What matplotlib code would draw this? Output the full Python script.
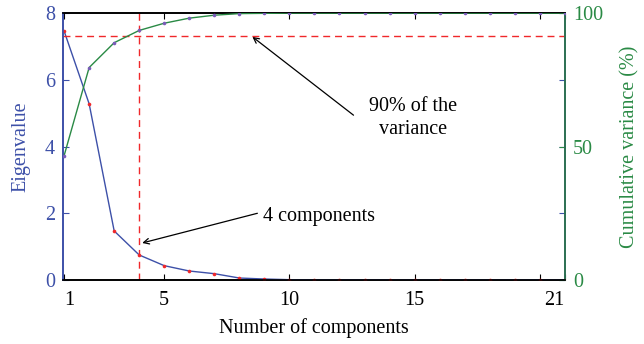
import numpy as np
import matplotlib
matplotlib.use("Agg")
import matplotlib.pyplot as plt

plt.rcParams["font.family"] = ["Liberation Serif", "DejaVu Serif"]

# eigenvalues of the 21 principal components and their cumulative share
components = np.arange(1, 22)
eigenvalues = [7.46, 5.28, 1.47, 0.75, 0.43, 0.27, 0.19, 0.06, 0.03, 0.01,
               0.005, 0.003, 0.002, 0.001, 0.001, 0.0, 0.0, 0.0, 0.0, 0.0, 0.0]
cumulative = [46.6, 79.6, 88.9, 93.5, 96.2, 98.1, 99.2, 99.8, 99.9, 100.0,
              100.0, 100.0, 100.0, 100.0, 100.0, 100.0, 100.0, 100.0, 100.0, 100.0, 100.0]
threshold = 91.5      # dashed level marking 90% of the variance
n_keep = 4
xticks = [1, 5, 10, 15, 20, 21]
xticklabels = ["1", "5", "10", "15", "", "21"]

BLUE = "#3d50a8"
GREEN = "#2a8a45"
GREEN_DARK = "#2b6e52"
RED = "#f0282a"
PURPLE = "#7a5cb8"
FS = 14.5

fig = plt.figure(figsize=(6.44, 3.44), dpi=100)
ax = fig.add_axes([0.098, 0.186, 0.779, 0.776])
ax2 = ax.twinx()

ax.plot(components, eigenvalues, "-", color=BLUE, lw=1.0, zorder=3)
ax.plot(components, eigenvalues, "o", color=RED, ms=2.6, mec="none", zorder=4)
ax2.plot(components, cumulative, "-", color=GREEN, lw=1.0, zorder=3)
ax2.plot(components, cumulative, "o", color=PURPLE, ms=2.6, mec="none", zorder=4)

ax2.axhline(threshold, color=RED, ls=(0, (5, 3.5)), lw=1.0)
ax.axvline(n_keep, color=RED, ls=(0, (5, 3.5)), lw=1.0)

ax.set_xlim(0.96, 21)
ax.set_ylim(0, 8)
ax2.set_ylim(0, 100)

ax.set_xticks(xticks)
ax.set_xticklabels(xticklabels)
lbls = ax.get_xticklabels()
lbls[0].set_ha("left")
lbls[-1].set_ha("right")
ax.set_yticks([0, 2, 4, 6, 8])
ax2.set_yticks([0, 50, 100])

ax.tick_params(axis="x", direction="in", top=True, length=4, width=0.8,
               colors="black", labelsize=FS, pad=8)
ax.tick_params(axis="y", direction="in", right=True, length=4, width=0.8,
               colors=BLUE, labelsize=FS, pad=6)
ax2.tick_params(axis="y", direction="in", length=4, width=0.8,
                colors=GREEN, labelsize=FS, pad=6)

ax.spines["left"].set_color(BLUE)
ax2.spines["left"].set_color(BLUE)
ax2.spines["right"].set_color(GREEN_DARK)
ax.spines["right"].set_color(GREEN_DARK)
for a in (ax, ax2):
    for s in a.spines.values():
        s.set_linewidth(1.2)

ax.set_xlabel("Number of components", fontsize=FS, labelpad=6)
ax.set_ylabel("Eigenvalue", color=BLUE, fontsize=FS, labelpad=10)
ax2.set_ylabel("Cumulative variance (%)", color=GREEN, fontsize=FS, labelpad=12)

# callouts: arrows drawn tail-to-head, labels placed on their own
arrow = dict(arrowstyle="->", color="black", lw=0.9, shrinkA=0, shrinkB=0)
ax.annotate("", xy=(8.52, 7.29), xytext=(12.56, 4.94), arrowprops=arrow)
ax.text(14.92, 4.85, "90% of the\nvariance", ha="center", va="center",
        fontsize=FS, linespacing=1.3)
ax.annotate("", xy=(4.12, 1.11), xytext=(8.72, 2.0), arrowprops=arrow)
ax.text(8.95, 1.9, "4 components", ha="left", va="center", fontsize=FS)

fig.savefig("out.png", dpi=100)
